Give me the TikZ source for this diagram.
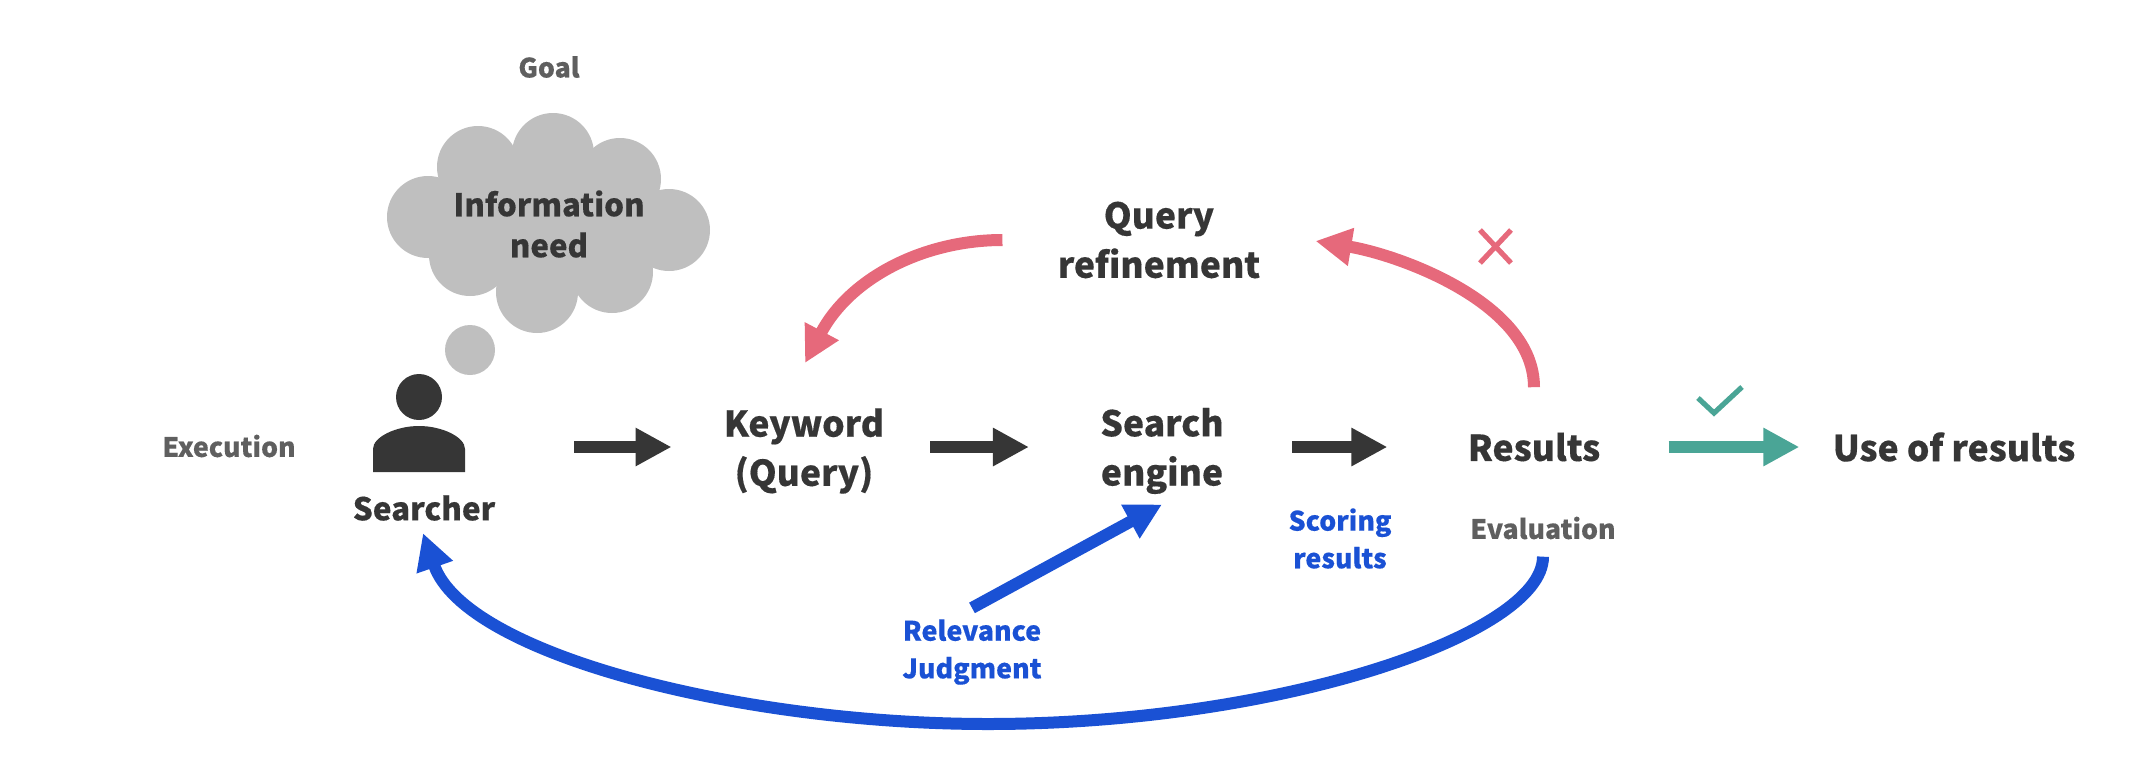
\documentclass[tikz,border=0pt]{standalone}
\usepackage{fontspec}
\setmainfont{Noto Sans CJK JP}[BoldFeatures={FakeBold=0.35}]
\usepackage{xcolor}
\usetikzlibrary{positioning,arrows.meta}
\definecolor{darktext}{HTML}{363636}
\definecolor{graytext}{HTML}{5F5F5F}
\definecolor{cloudgray}{HTML}{BFBFBF}
\definecolor{refinered}{HTML}{E6697B}
\definecolor{usegreen}{HTML}{4AA596}
\definecolor{feedblue}{HTML}{1A51D4}

\begin{document}
\begin{tikzpicture}[
        x=0.5pt, y=-0.5pt, on grid,
        mainlabel/.style={font=\fontsize{17.75pt}{24.6pt}\selectfont\bfseries, text=darktext, align=center, inner sep=0pt},
        cloudlabel/.style={font=\fontsize{15.6pt}{20.5pt}\selectfont\bfseries, text=darktext, align=center, inner sep=0pt},
        sidelabel/.style={font=\fontsize{13.35pt}{18pt}\selectfont\bfseries, text=graytext, align=center, inner sep=0pt},
        bluelabel/.style={font=\fontsize{13.4pt}{18.8pt}\selectfont\bfseries, text=feedblue, align=center, inner sep=0pt},
        arrow/.style={line width=6pt,-{Triangle[length=18pt,width=18pt]}},
        markline/.style={line width=2.6pt}
    ]
        \useasboundingbox (0,0) rectangle (2154,762);

        \foreach \cx/\cy in {428/217,478/167,553/154,620/179,669/230,612/272,537/292,470/255}
            \fill[cloudgray] (\cx,\cy) circle (41);
        \fill[cloudgray] (428,217) -- (478,167) -- (553,154) -- (620,179) -- (669,230) -- (612,272) -- (537,292) -- (470,255) -- cycle;
        \fill[cloudgray] (470,350) circle (25);

        \fill[darktext] (419,397) circle (23);
        \fill[darktext] (373,472) -- (373,449) .. controls (373,437) and (396,426) .. (419,426)
            .. controls (442,426) and (465,437) .. (465,449) -- (465,472) -- cycle;

        \coordinate (person) at (419,447);
        \node[mainlabel, font=\fontsize{15.7pt}{24pt}\selectfont\bfseries] (searcher) at (424,508) {Searcher};
        \node[sidelabel] (execution) at (229,446) {Execution};
        \node[sidelabel] (goal) at (549,67) {Goal};
        \node[cloudlabel] (need) at (549,224) {Information\\need};

        \node[mainlabel] (keyword) at (804,451) {Keyword\\(Query)};
        \node[mainlabel, right=179pt of keyword] (engine) {Search\\engine};
        \node[mainlabel, right=186pt of engine, yshift=2pt] (results) {Results};
        \node[mainlabel, right=210pt of results] (use) {Use of results};
        \node[mainlabel] (refinement) at (1159,240) {Query\\refinement};

        \node[bluelabel] (scoring) at (1340,538.5) {Scoring\\results};
        \node[sidelabel] (evaluation) at (1543,528) {Evaluation};
        \node[bluelabel] (relevance) at (972,652) {Relevance\\Judgment};

        \draw[arrow, darktext] ([xshift=77.5pt]person) -- ([xshift=-26pt]keyword.west |- person);
        \draw[arrow, darktext] ([xshift=23pt]keyword.east |- person) -- ([xshift=-35.5pt]engine.west |- person);
        \draw[arrow, darktext] ([xshift=34pt]engine.east |- person) -- ([xshift=-40pt]results.west |- person);
        \draw[arrow, usegreen] ([xshift=34pt]results.east |- person) -- ([xshift=-16.5pt]use.west |- person);

        \draw[arrow, refinered] ([yshift=22.5pt]results.north) .. controls +(0,-84) and +(84,14) .. ([xshift=27.5pt,yshift=-0.5pt]refinement.east);
        \draw[arrow, refinered] ([xshift=-27.5pt]refinement.west |- 0,240) .. controls +(-79,0) and +(45,-85) .. (805,363);

        \draw[arrow, feedblue] ([yshift=5.5pt]relevance.north) -- ([yshift=-5pt]engine.south);
        \coordinate (curvebottom) at (988,724);
        \draw[line width=6pt, feedblue] ([yshift=-8.5pt]evaluation.south) .. controls +(0,78) and +(290,0) .. (curvebottom) coordinate (curvemid);
        \draw[arrow, feedblue] (curvemid) .. controls +(-248,0) and +(42,121) .. ([xshift=-0.5pt,yshift=-6pt]searcher.south);

        \draw[markline, usegreen] (1698,398) -- (1714,413) -- (1742,387);
        \draw[markline, refinered] (1480,230) -- (1511,263);
        \draw[markline, refinered] (1511,230) -- (1480,263);
    \end{tikzpicture}
\end{document}
